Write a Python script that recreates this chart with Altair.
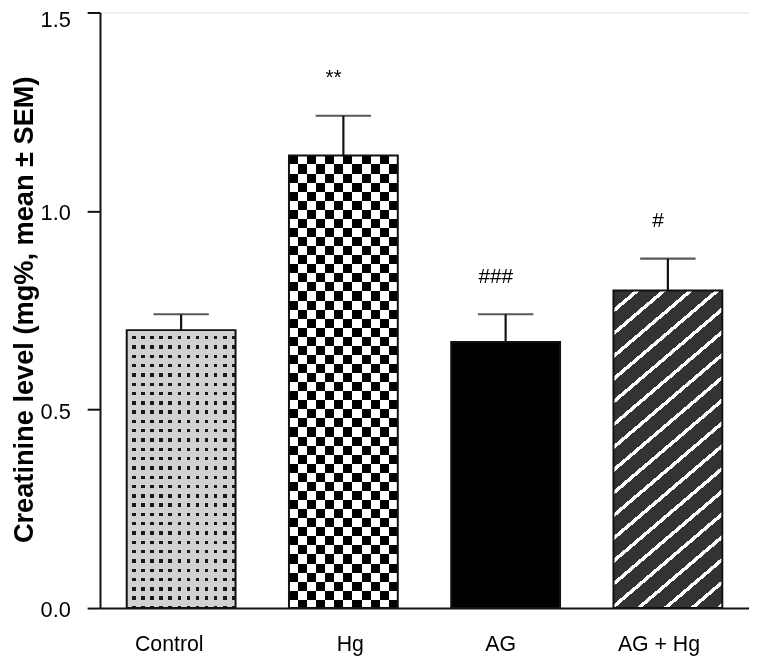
import altair as alt
import pandas as pd

groups = ["Control", "Hg", "AG", "AG + Hg"]
means = [0.70, 1.14, 0.67, 0.80]
sems = [0.04, 0.10, 0.07, 0.08]
signs = ["", "**", "###", "#"]

df = pd.DataFrame({"group": groups, "mean": means, "sem": sems, "sign": signs})

# layout (style)
W, H = 656, 602
YMAX = 1.5
PX_PER_UNIT = H / YMAX
BAR_W = 110
FONT = "Liberation Sans"
# small horizontal nudges of the category labels, as placed in the original figure
label_nudge = {"Control": -12, "Hg": 7, "AG": -5, "AG + Hg": -9}
nudge_expr = " : ".join(
    [f"datum.value === '{k}' ? {v}" for k, v in label_nudge.items()]
) + " : 0"


def bar_height(g):
    return means[groups.index(g)] * PX_PER_UNIT


def band_stops(periods, first_color, first_frac, second_color):
    stops = []
    k = 0
    while k / periods < 1:
        s = k / periods
        m = min((k + first_frac) / periods, 1.0)
        e = min((k + 1) / periods, 1.0)
        stops += [
            alt.GradientStop(offset=round(s, 5), color=first_color),
            alt.GradientStop(offset=round(m, 5), color=first_color),
            alt.GradientStop(offset=round(m, 5), color=second_color),
            alt.GradientStop(offset=round(e, 5), color=second_color),
        ]
        k += 1
    return stops


def lin(stops, x2, y2):
    return alt.LinearGradient(gradient="linear", stops=stops, x1=0, y1=0, x2=x2, y2=y2)


x_enc = alt.X(
    "group:N",
    sort=groups,
    scale=alt.Scale(domain=groups, paddingInner=0, paddingOuter=0),
    axis=alt.Axis(
        title=None, ticks=False, labelAngle=0, labelFontSize=21.5, labelFont=FONT,
        labelColor="black", labelPadding=26, domainWidth=2, domainColor="#111",
        labelOffset=alt.ExprRef(expr=nudge_expr),
    ),
)
y_enc = alt.Y(
    "mean:Q",
    scale=alt.Scale(domain=[0, YMAX], nice=False, zero=True),
    axis=alt.Axis(
        title="Creatinine level (mg%, mean ± SEM)", values=[0, 0.5, 1.0, 1.5], format=".1f",
        grid=False, tickSize=13, tickWidth=2, tickColor="#111", domainWidth=2, domainColor="#111",
        labelFontSize=22, labelFont=FONT, labelColor="black", labelPadding=17,
        labelOffset={"condition": {"test": "datum.value == 1.5", "value": 7.5}, "value": 2},
        titleFont=FONT, titleFontSize=27.5, titleFontWeight="bold", titleColor="black",
        titleX=-68, titleY=300, titleAngle=270, titleAlign="center", titleBaseline="alphabetic",
    ),
)

base = alt.Chart(df)

# Control: dotted light gray (two stripe layers, lightened)
ctrl_h = bar_height("Control")
ctrl_a = base.mark_bar(size=BAR_W, strokeWidth=0, fill=lin(band_stops(BAR_W / 9.17, "#d2d2d2", 0.6, "#1a1a1a"), 1, 0)).encode(
    x=x_enc, y=y_enc).transform_filter(alt.datum.group == "Control")
ctrl_b = base.mark_bar(size=BAR_W, strokeWidth=0, blend="lighten", fill=lin(band_stops(ctrl_h / 9.4, "#d2d2d2", 0.64, "#1a1a1a"), 0, 1)).encode(
    x=x_enc, y=y_enc).transform_filter(alt.datum.group == "Control")

# Hg: checkerboard (difference of two stripe layers)
hg_h = bar_height("Hg")
sq = BAR_W / 12
hg_a = base.mark_bar(size=BAR_W, strokeWidth=0, fill=lin(band_stops(BAR_W / (2 * sq), "#000000", 0.5, "#ffffff"), 1, 0)).encode(
    x=x_enc, y=y_enc).transform_filter(alt.datum.group == "Hg")
hg_b = base.mark_bar(size=BAR_W, strokeWidth=0, blend="difference", fill=lin(band_stops(hg_h / (2 * sq), "#000000", 0.5, "#ffffff"), 0, 1)).encode(
    x=x_enc, y=y_enc).transform_filter(alt.datum.group == "Hg")

# AG: solid black
ag = base.mark_bar(size=BAR_W, strokeWidth=0, fill="#000000").encode(
    x=x_enc, y=y_enc).transform_filter(alt.datum.group == "AG")

# AG + Hg: diagonal white stripes on dark gray
agh_h = bar_height("AG + Hg")
PXp, PYp = 27.0, 23.0
A0, B0 = BAR_W / PXp, agh_h / PYp
phi = A0 + B0
A, B = A0 / phi, B0 / phi
den = A * A + B * B
agh = base.mark_bar(size=BAR_W, strokeWidth=0, fill=lin(band_stops(phi, "#333333", 0.8, "#ffffff"), A / den, B / den)).encode(
    x=x_enc, y=y_enc).transform_filter(alt.datum.group == "AG + Hg")

outline = base.mark_bar(size=BAR_W, fill="transparent", stroke="#111", strokeWidth=2).encode(x=x_enc, y=y_enc)

err_rule = base.mark_rule(color="#111", strokeWidth=2.2).encode(
    x=x_enc, y=alt.Y("mean:Q"), y2=alt.Y2("top:Q")).transform_calculate(top="datum.mean + datum.sem")
err_cap = base.mark_tick(color="#111", size=56, thickness=2.2).encode(
    x=x_enc, y=alt.Y("top:Q")).transform_calculate(top="datum.mean + datum.sem")

sig = base.mark_text(font=FONT, fontSize=21, color="black", dx=-10, dy=-38, baseline="middle", align="center").encode(
    x=x_enc, y=alt.Y("top:Q"), text="sign:N").transform_calculate(top="datum.mean + datum.sem")

chart = alt.layer(ctrl_a, ctrl_b, hg_a, hg_b, ag, agh, outline, err_rule, err_cap, sig).properties(
    width=W, height=H,
    autosize=alt.AutoSizeParams(type="none"),
    padding={"left": 93, "top": 1, "right": 0, "bottom": 52},
).configure_view(stroke=None).configure(background="white")

chart.save("out.html", embed_options={"renderer": "svg", "actions": False})
